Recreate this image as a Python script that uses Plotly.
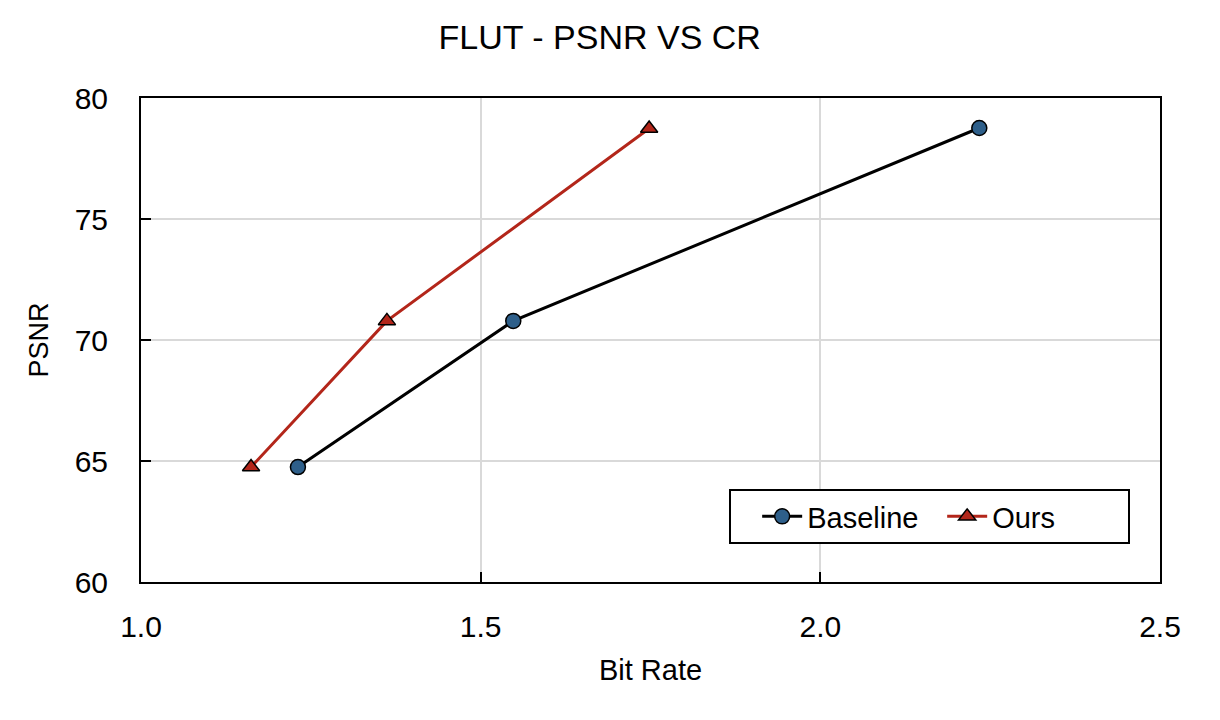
import plotly.graph_objects as go

baseline_x = [1.231, 1.548, 2.234]
baseline_y = [64.75, 70.79, 78.76]
ours_x = [1.162, 1.362, 1.748]
ours_y = [64.75, 70.79, 78.74]
x_ticks = [1.0, 1.5, 2.0, 2.5]
x_tick_labels = ["1.0", "1.5", "2.0", "2.5"]
y_ticks = [60, 65, 70, 75, 80]

FONT = "Liberation Sans, Arial, sans-serif"

fig = go.Figure()
fig.add_trace(go.Scatter(
    x=baseline_x, y=baseline_y, mode="lines+markers", name="Baseline",
    line=dict(color="#000000", width=3),
    marker=dict(symbol="circle", size=15, color="#2e5f8a", line=dict(color="#000000", width=1.5)),
))
fig.add_trace(go.Scatter(
    x=ours_x, y=ours_y, mode="lines+markers", name="Ours",
    line=dict(color="#b3261a", width=3),
    marker=dict(symbol="triangle-up", size=15, color="#b3261a", line=dict(color="#000000", width=1.5)),
))

fig.update_layout(
    width=1220, height=720,
    paper_bgcolor="white", plot_bgcolor="white",
    margin=dict(l=133, r=68, t=90, b=146),
    font=dict(family=FONT, color="#000000"),
    title=dict(text="FLUT - PSNR VS CR", x=0.485, xanchor="center", y=0.96, yanchor="middle",
               yref="container", font=dict(size=34, family=FONT, color="#000000")),
    legend=dict(x=0.9706, y=0.0785, xanchor="right", yanchor="bottom",
                orientation="h", bordercolor="#000000", borderwidth=2,
                bgcolor="white", font=dict(size=29, family=FONT, color="#000000"),
                title=dict(text="&nbsp;&nbsp;", side="left", font=dict(size=29)),
                itemwidth=40, traceorder="normal", entrywidth=130, entrywidthmode="pixels"),
    showlegend=True,
)
fig.update_xaxes(
    range=[1.0, 2.5], tickvals=x_ticks, ticktext=x_tick_labels,
    showgrid=True, gridcolor="#d9d9d9", gridwidth=1.5,
    showline=True, linecolor="#000000", linewidth=2, mirror=True,
    ticks="inside", ticklen=10, tickwidth=2, tickcolor="#000000",
    tickfont=dict(size=30, family=FONT, color="#000000"), ticklabelstandoff=17,
    title=dict(text="Bit Rate", font=dict(size=29, family=FONT, color="#000000"), standoff=18),
    zeroline=False,
)
fig.update_yaxes(
    range=[60, 80], tickvals=y_ticks,
    showgrid=True, gridcolor="#d9d9d9", gridwidth=1.5,
    showline=True, linecolor="#000000", linewidth=2, mirror=True,
    ticks="inside", ticklen=10, tickwidth=2, tickcolor="#000000",
    tickfont=dict(size=30, family=FONT, color="#000000"), ticklabelstandoff=25,
    title=dict(text="PSNR", font=dict(size=27, family=FONT, color="#000000"), standoff=18),
    zeroline=False,
)

fig.write_html("out.html")
